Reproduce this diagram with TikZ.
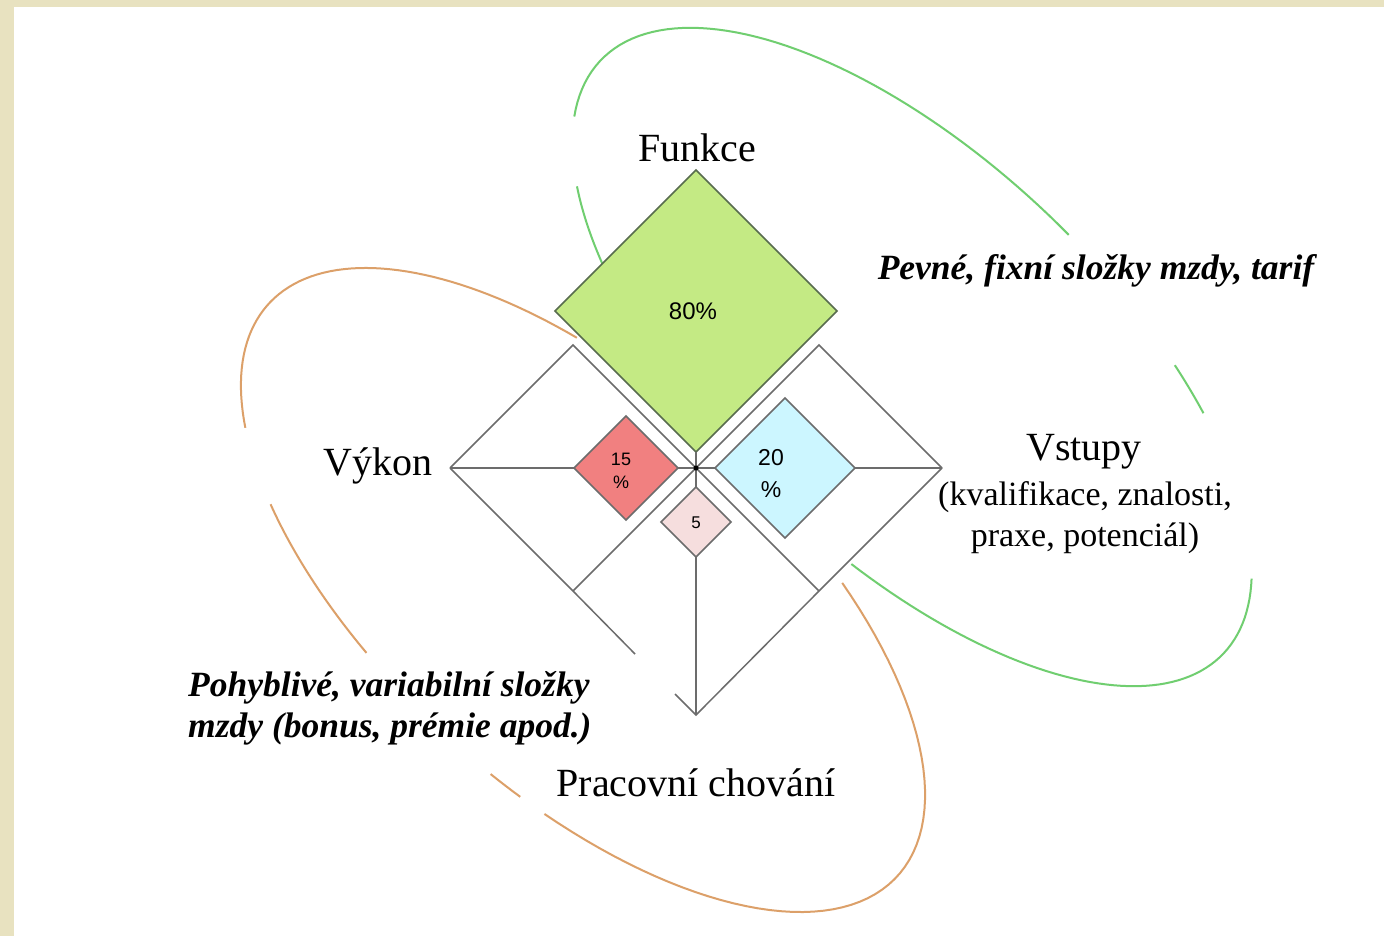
\documentclass[tikz,border=0pt]{standalone}
\usepackage{fontspec}
\setmainfont{Liberation Serif}
\newfontfamily\pctfont{Liberation Sans}
\usetikzlibrary{shapes.geometric}
\definecolor{beige}{RGB}{232,226,192}
\definecolor{lineg}{RGB}{108,108,108}
\definecolor{fgreen}{RGB}{196,234,132}
\definecolor{bgreen}{RGB}{88,108,78}
\definecolor{fred}{RGB}{241,128,128}
\definecolor{fblue}{RGB}{204,246,255}
\definecolor{fpink}{RGB}{246,222,222}
\definecolor{ellg}{RGB}{112,206,112}
\definecolor{ello}{RGB}{220,160,105}
\newcommand\GreenArc[2]{\draw[ellgreen] plot[domain=#1:#2, samples=60]
  ({912 + 430*cos(\x)*0.724 - 197*sin(\x)*0.690}, {357 + 430*cos(\x)*0.690 + 197*sin(\x)*0.724});}
\newcommand\OrangeArc[2]{\draw[ellorange] plot[domain=#1:#2, samples=60]
  ({583 + 425*cos(\x)*0.740 - 200*sin(\x)*0.673}, {590 + 425*cos(\x)*0.673 + 200*sin(\x)*0.740});}
\begin{document}
\begin{tikzpicture}[x=1pt,y=-1pt,
  edge/.style={draw=lineg,line width=1.5pt},
  dia/.style={diamond,aspect=1,draw=lineg,line width=1.5pt,inner sep=0pt,outer sep=0pt},
  ellgreen/.style={draw=ellg,line width=2pt},
  ellorange/.style={draw=ello,line width=2pt},
  big/.style={font=\fontsize{40}{44}\selectfont,inner sep=0pt},
  mid/.style={font=\fontsize{34}{41}\selectfont,inner sep=0pt,align=center},
  bi/.style={font=\fontsize{35.5}{41}\selectfont\bfseries\itshape,inner sep=0pt},
  pct/.style={inner sep=0pt,align=center}]
\useasboundingbox (0,0) rectangle (1384,936);
\fill[beige] (0,0) rectangle (1384,936);
\fill[white] (14,7) rectangle (1384,936);

% ellipses (partly hidden)
\GreenArc{131.8}{146.9}
\GreenArc{162.6}{273.9}
\GreenArc{297.1}{305.5}
\GreenArc{338}{436.7}
\OrangeArc{147.6}{245.8}
\OrangeArc{106.1}{132.8}
\OrangeArc{77.4}{82.5}
\OrangeArc{-63.9}{73.3}

% frame coordinates
\coordinate (O) at (696,468);
\coordinate (L) at (450,468);
\coordinate (R) at (942,468);
\coordinate (B) at (696,715);
\coordinate (TL) at (573,345);
\coordinate (TR) at (819,345);
\coordinate (BL) at (573,591);
\coordinate (BR) at (819,591);
\coordinate (Lend) at (635,654);
\coordinate (Bend) at (675,694);

\draw[edge] (L) -- (TL) -- (O) -- (TR) -- (R);
\draw[edge] (L) -- (BL) -- (Lend);
\draw[edge] (O) -- (BL);
\draw[edge] (O) -- (BR);
\draw[edge] (R) -- (BR) -- (B) -- (Bend);

% diamonds
\node[dia,draw=bgreen,fill=fgreen,minimum width=282pt,minimum height=282pt] (fun) at (696,311) {};
\node[dia,fill=fred,minimum width=104pt,minimum height=104pt] (red) at (626,468) {};
\node[dia,fill=fblue,minimum width=140pt,minimum height=140pt] (blue) at (785,468) {};
\node[dia,fill=fpink,minimum width=70pt,minimum height=70pt] (pink) at (696,522) {};

\draw[edge] (L) -- (red.west);
\draw[edge] (red.east) -- (O);
\draw[edge] (O) -- (blue.west);
\draw[edge] (blue.east) -- (R);
\draw[edge] (fun.south) -- (O);
\draw[edge] (O) -- (pink.north);
\draw[edge] (pink.south) -- (B);
\fill[black] (O) circle (2.5);

% percentages
\node[pct,font=\pctfont\fontsize{24}{28}\selectfont] (p80) at (693,311) {80\%};
\node[pct,font=\pctfont\fontsize{18}{23}\selectfont] (p15) at (621,471) {15\\\%};
\node[pct,font=\pctfont\fontsize{23}{32}\selectfont] (p20) at (771,474) {20\\\%};
\node[pct,font=\pctfont\fontsize{17}{20}\selectfont] (p5) at (696,523) {5};

% labels
\node[big] (funkce) at (697,148) {Funkce};
\node[big] (vykon) at (378,466) {Výkon};
\node[big] (vstupy) at (1084,452) {Vstupy};
\node[mid] (vstupytxt) at (1085,518) {(kvalifikace, znalosti,\\praxe, potenciál)};
\node[big] (prac) at (696,783) {Pracovní chování};
\node[bi] (pevne) at (1096,271) {Pevné, fixní složky mzdy, tarif};
\node[bi,anchor=west,align=left] (pohyb) at (188,708) {Pohyblivé, variabilní složky\\mzdy (bonus, prémie apod.)};
\end{tikzpicture}
\end{document}
